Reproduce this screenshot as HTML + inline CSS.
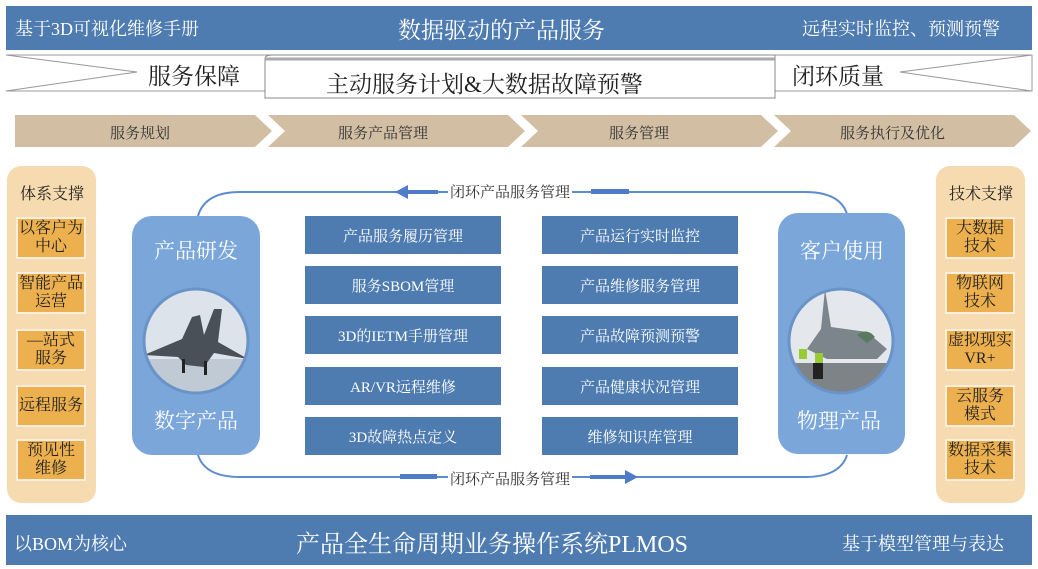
<!DOCTYPE html>
<html><head><meta charset="utf-8"><style>
*{margin:0;padding:0;box-sizing:border-box}
body{width:1038px;height:569px;background:#fff;position:relative;overflow:hidden;font-family:"Liberation Serif","Noto Serif CJK SC",serif}
.a{position:absolute}
.bar{background:#4e7cb0;color:#fff}
.c{display:flex;align-items:center;justify-content:center;text-align:center}
.side{background:#f7dbb0;border-radius:14px}
.ob{background:#edb04e;border:2px solid #fbeede;color:#222;font-size:16px;line-height:18px;left:0;width:70px;height:42px}
.bb{background:#4e7cb0;color:#fff;font-size:15px;width:196px;height:38px}
.bp{background:#7aa6d9;border-radius:20px;color:#fff;font-size:21px}
</style></head><body>
<div class="a bar" style="left:6px;top:6px;width:1026px;height:44px"></div>
<div class="a" style="left:15px;top:15px;color:#fff;font-size:18px">基于3D可视化维修手册</div>
<div class="a" style="left:398px;top:12px;color:#fff;font-size:23px">数据驱动的产品服务</div>
<div class="a" style="left:802px;top:15px;color:#fff;font-size:18px">远程实时监控、预测预警</div>

<svg class="a" style="left:0;top:50px" width="1038" height="60">
<path d="M6 5 L1032 5 L1032 41 L6 41" fill="#fff" stroke="#999" stroke-width="1"/>
<path d="M6 5 L137 22 L6 41" fill="none" stroke="#999"/>
<path d="M1032 5 L900 22 L1032 41" fill="none" stroke="#999"/>
<path d="M265 9 Q265 5 272 5 L775 5 L775 48 L265 48 Z" fill="#fff" stroke="#888"/>
<path d="M265 9 L775 9" stroke="#aaa" stroke-width="3"/>
</svg>
<div class="a" style="left:148px;top:58px;font-size:23px;color:#222">服务保障</div>
<div class="a" style="left:326px;top:66px;font-size:23px;color:#222">主动服务计划&amp;大数据故障预警</div>
<div class="a" style="left:792px;top:58px;font-size:23px;color:#222">闭环质量</div>

<svg class="a" style="left:0;top:112px" width="1038" height="40">
<path d="M15 3 L255 3 L272 19 L255 35 L15 35 Z" fill="#d1bea3"/>
<path d="M268 3 L508 3 L525 19 L508 35 L268 35 L285 19 Z" fill="#d1bea3"/>
<path d="M521 3 L761 3 L778 19 L761 35 L521 35 L538 19 Z" fill="#d1bea3"/>
<path d="M774 3 L1014 3 L1031 19 L1014 35 L774 35 L791 19 Z" fill="#d1bea3"/>
</svg>
<div class="a" style="left:110px;top:122px;font-size:15px;color:#333">服务规划</div>
<div class="a" style="left:338px;top:122px;font-size:15px;color:#333">服务产品管理</div>
<div class="a" style="left:609px;top:122px;font-size:15px;color:#333">服务管理</div>
<div class="a" style="left:840px;top:122px;font-size:15px;color:#333">服务执行及优化</div>

<div class="a side" style="left:7px;top:166px;width:89px;height:337px"></div>
<div class="a" style="left:20px;top:181px;font-size:16px;color:#222">体系支撑</div>
<div class="a" style="left:16px;top:0">
<div class="a c ob" style="top:217px">以客户为<br>中心</div>
<div class="a c ob" style="top:272px">智能产品<br>运营</div>
<div class="a c ob" style="top:329px">—站式<br>服务</div>
<div class="a c ob" style="top:385px">远程服务</div>
<div class="a c ob" style="top:439px">预见性<br>维修</div>
</div>
<div class="a side" style="left:936px;top:166px;width:89px;height:337px"></div>
<div class="a" style="left:949px;top:181px;font-size:16px;color:#222">技术支撑</div>
<div class="a" style="left:945px;top:0">
<div class="a c ob" style="top:217px">大数据<br>技术</div>
<div class="a c ob" style="top:272px">物联网<br>技术</div>
<div class="a c ob" style="top:329px">虚拟现实<br>VR+</div>
<div class="a c ob" style="top:385px">云服务<br>模式</div>
<div class="a c ob" style="top:439px">数据采集<br>技术</div>
</div>

<svg class="a" style="left:0;top:0" width="1038" height="569">
<path d="M198 216 Q205 192 240 192 L805 192 Q840 192 847 214" fill="none" stroke="#5b8bd0" stroke-width="2"/>
<path d="M198 455 Q205 477 240 477 L805 477 Q840 477 847 455" fill="none" stroke="#5b8bd0" stroke-width="2"/>
<path d="M395 192 L408 185 L408 190 L438 190 L438 194 L408 194 L408 199 Z" fill="#4e7cc8"/>
<rect x="591" y="189" width="38" height="5" fill="#4e7cc8"/>
<rect x="400" y="474" width="37" height="5" fill="#4e7cc8"/>
<path d="M638 477 L625 470 L625 475 L590 475 L590 479 L625 479 L625 484 Z" fill="#4e7cc8"/>
</svg>
<div class="a" style="left:448px;top:181px;font-size:15px;color:#333;background:#fff;padding:0 2px">闭环产品服务管理</div>
<div class="a" style="left:448px;top:468px;font-size:15px;color:#333;background:#fff;padding:0 2px">闭环产品服务管理</div>

<div class="a bp" style="left:132px;top:216px;width:128px;height:239px"></div>
<div class="a" style="left:154px;top:235px;font-size:21px;color:#fff">产品研发</div>
<div class="a" style="left:154px;top:405px;font-size:21px;color:#fff">数字产品</div>
<svg class="a" style="left:142px;top:287px" width="108" height="108">
<defs><clipPath id="c1"><circle cx="54" cy="54" r="52"/></clipPath></defs>
<g clip-path="url(#c1)">
<rect width="108" height="108" fill="#dde3ea"/>
<rect y="72" width="108" height="36" fill="#bfcad4"/>
<path d="M2 68 L40 52 L50 30 L58 28 L62 48 L72 22 L80 22 L76 55 L106 72 L72 66 L62 80 L44 78 L36 70 Z" fill="#4a5058"/>
<rect x="40" y="72" width="3" height="14" fill="#222"/><rect x="62" y="74" width="3" height="14" fill="#222"/>
</g>
<circle cx="54" cy="54" r="52" fill="none" stroke="#6a94c8" stroke-width="3"/>
</svg>
<div class="a bp" style="left:778px;top:213px;width:127px;height:241px"></div>
<div class="a" style="left:800px;top:235px;font-size:21px;color:#fff">客户使用</div>
<div class="a" style="left:797px;top:405px;font-size:21px;color:#fff">物理产品</div>
<svg class="a" style="left:787px;top:287px" width="108" height="108">
<defs><clipPath id="c2"><circle cx="54" cy="54" r="52"/></clipPath></defs>
<g clip-path="url(#c2)">
<rect width="108" height="108" fill="#e4e8ec"/>
<rect y="76" width="108" height="32" fill="#7e8388"/>
<path d="M38 2 L44 40 L80 45 L100 62 L90 72 L40 72 L20 62 L34 42 Z" fill="#7c848c"/>
<path d="M70 48 Q80 40 88 50 L80 56 Z" fill="#5a7a60"/>
<rect x="12" y="62" width="8" height="10" fill="#9c3"/><rect x="28" y="66" width="8" height="10" fill="#9c3"/>
<rect x="26" y="76" width="10" height="16" fill="#222"/>
</g>
<circle cx="54" cy="54" r="52" fill="none" stroke="#6a94c8" stroke-width="3"/>
</svg>

<div class="a c bb" style="left:305px;top:216px">产品服务履历管理</div>
<div class="a c bb" style="left:305px;top:266px">服务SBOM管理</div>
<div class="a c bb" style="left:305px;top:316px">3D的IETM手册管理</div>
<div class="a c bb" style="left:305px;top:367px">AR/VR远程维修</div>
<div class="a c bb" style="left:305px;top:417px">3D故障热点定义</div>
<div class="a c bb" style="left:542px;top:216px">产品运行实时监控</div>
<div class="a c bb" style="left:542px;top:266px">产品维修服务管理</div>
<div class="a c bb" style="left:542px;top:316px">产品故障预测预警</div>
<div class="a c bb" style="left:542px;top:367px">产品健康状况管理</div>
<div class="a c bb" style="left:542px;top:417px">维修知识库管理</div>

<div class="a bar" style="left:6px;top:515px;width:1026px;height:50px"></div>
<div class="a" style="left:14px;top:530px;color:#fff;font-size:18px">以BOM为核心</div>
<div class="a" style="left:296px;top:524px;color:#fff;font-size:24px">产品全生命周期业务操作系统PLMOS</div>
<div class="a" style="left:842px;top:530px;color:#fff;font-size:18px">基于模型管理与表达</div>
</body></html>
